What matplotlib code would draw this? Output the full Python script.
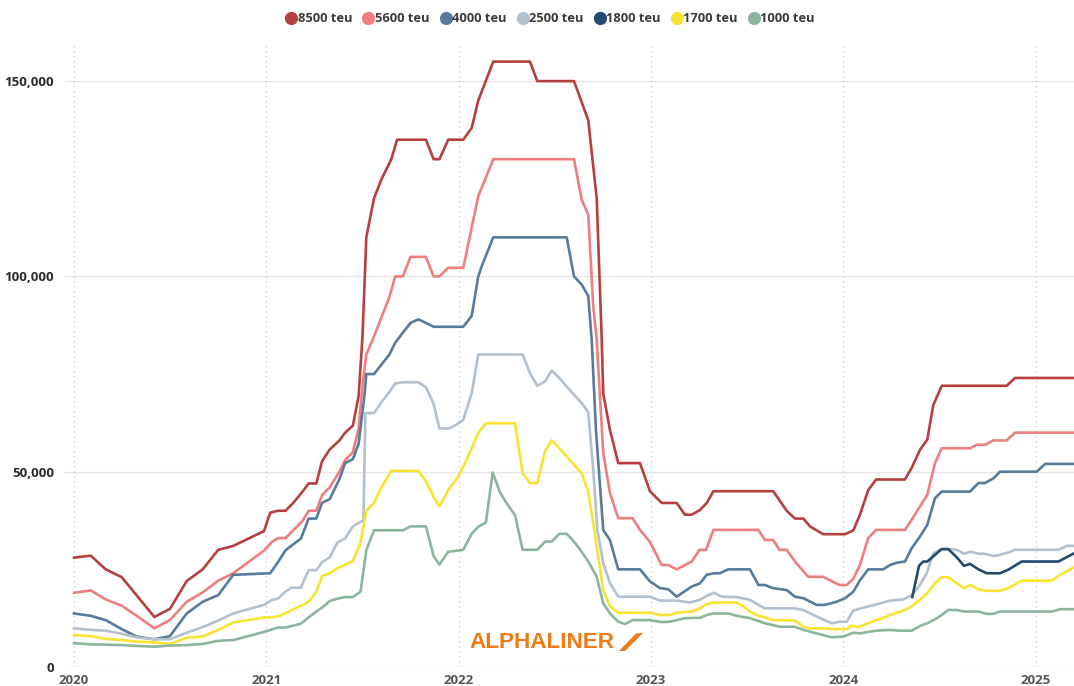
import matplotlib
matplotlib.use("Agg")
import matplotlib.pyplot as plt
from matplotlib.lines import Line2D
from matplotlib.patches import Polygon
from matplotlib.ticker import FuncFormatter

plt.rcParams['font.family'] = ['Open Sans', 'DejaVu Sans']

# charter rates ($/day) by vessel size, time as fractional year
s8500 = [(2020.0, 28000), (2020.087, 28500), (2020.165, 25000), (2020.248, 23000), (2020.418, 12800),
         (2020.499, 14900), (2020.586, 22000), (2020.669, 25000), (2020.750, 30000), (2020.828, 31000),
         (2020.988, 34800), (2021.02, 39500), (2021.06, 40000), (2021.10, 40000), (2021.14, 42000),
         (2021.19, 45000), (2021.22, 47000), (2021.26, 47000), (2021.29, 52700), (2021.33, 55700),
         (2021.38, 58000), (2021.41, 60000), (2021.45, 61800), (2021.48, 69400), (2021.50, 84600),
         (2021.52, 110000), (2021.56, 120000), (2021.60, 125000), (2021.65, 130000), (2021.68, 135000),
         (2021.83, 135000), (2021.87, 130000), (2021.90, 130000), (2021.946, 135000), (2022.024, 135000),
         (2022.068, 138000), (2022.102, 145000), (2022.180, 155000), (2022.371, 155000), (2022.409, 150000),
         (2022.600, 150000), (2022.674, 140000), (2022.718, 120000), (2022.744, 84000), (2022.752, 70000),
         (2022.787, 60700), (2022.830, 52200), (2022.943, 52200), (2022.995, 45000), (2023.056, 42000),
         (2023.134, 42000), (2023.177, 39000), (2023.212, 39000), (2023.255, 40200), (2023.290, 42000),
         (2023.325, 45000), (2023.636, 45000), (2023.706, 40000), (2023.749, 38000), (2023.793, 38000),
         (2023.827, 36000), (2023.896, 34000), (2024.009, 34000), (2024.053, 35000), (2024.087, 39000),
         (2024.130, 45300), (2024.171, 48000), (2024.321, 48000), (2024.356, 51000), (2024.399, 55600),
         (2024.437, 58200), (2024.468, 67000), (2024.512, 72000), (2024.850, 72000), (2024.893, 74000),
         (2025.200, 74000)]

s5600 = [(2020.0, 19000), (2020.087, 19600), (2020.165, 17300), (2020.248, 15700), (2020.326, 13100),
         (2020.418, 9900), (2020.499, 12000), (2020.586, 16700), (2020.669, 19100), (2020.750, 22100),
         (2020.828, 24000), (2020.988, 29800), (2021.031, 32100), (2021.06, 33000), (2021.10, 33000),
         (2021.14, 35000), (2021.19, 37500), (2021.22, 40000), (2021.26, 40000), (2021.29, 44000),
         (2021.33, 46000), (2021.38, 50000), (2021.41, 53000), (2021.45, 55000), (2021.48, 61000),
         (2021.50, 72000), (2021.52, 80000), (2021.56, 84600), (2021.60, 89700), (2021.64, 94700),
         (2021.67, 100000), (2021.71, 100000), (2021.75, 105000), (2021.83, 105000), (2021.87, 100000),
         (2021.90, 100000), (2021.946, 102200), (2022.024, 102200), (2022.102, 120500), (2022.180, 130000),
         (2022.600, 130000), (2022.640, 119600), (2022.674, 115800), (2022.700, 92300), (2022.718, 83800),
         (2022.752, 54800), (2022.787, 44500), (2022.830, 38100), (2022.905, 38100), (2022.943, 35100),
         (2022.995, 32000), (2023.056, 26100), (2023.090, 26100), (2023.134, 25000), (2023.177, 26100),
         (2023.212, 27000), (2023.252, 30000), (2023.287, 30000), (2023.325, 35100), (2023.559, 35100),
         (2023.593, 32500), (2023.636, 32500), (2023.668, 30000), (2023.706, 30000), (2023.749, 27000),
         (2023.818, 23100), (2023.896, 23100), (2023.980, 21000), (2024.018, 21000), (2024.053, 22600),
         (2024.087, 26200), (2024.130, 33000), (2024.171, 35100), (2024.321, 35100), (2024.356, 37700),
         (2024.399, 41100), (2024.437, 44100), (2024.477, 52200), (2024.512, 56000), (2024.659, 56000),
         (2024.694, 56900), (2024.737, 56900), (2024.781, 58000), (2024.850, 58000), (2024.893, 60000),
         (2025.200, 60000)]

s4000 = [(2020.0, 13700), (2020.087, 13100), (2020.165, 12000), (2020.248, 9700), (2020.326, 7800),
         (2020.418, 7100), (2020.499, 7900), (2020.586, 13700), (2020.669, 16700), (2020.750, 18400),
         (2020.828, 23600), (2021.02, 24000), (2021.06, 26800), (2021.10, 29900), (2021.14, 31400),
         (2021.18, 32900), (2021.22, 38000), (2021.26, 38000), (2021.29, 42000), (2021.33, 43000),
         (2021.38, 48100), (2021.41, 52200), (2021.45, 53200), (2021.48, 57200), (2021.51, 69400),
         (2021.52, 75000), (2021.56, 75000), (2021.60, 77500), (2021.64, 80000), (2021.67, 83000),
         (2021.71, 85600), (2021.75, 88100), (2021.79, 89000), (2021.83, 88100), (2021.87, 87100),
         (2022.024, 87100), (2022.068, 89900), (2022.102, 100000), (2022.120, 102600), (2022.180, 110000),
         (2022.562, 110000), (2022.600, 100000), (2022.640, 97900), (2022.674, 95000), (2022.692, 83800),
         (2022.714, 60700), (2022.752, 35100), (2022.787, 32500), (2022.830, 25000), (2022.943, 25000),
         (2022.995, 21900), (2023.047, 20200), (2023.090, 19900), (2023.134, 18000), (2023.212, 20600),
         (2023.255, 21400), (2023.290, 23600), (2023.328, 24000), (2023.359, 24000), (2023.402, 25000),
         (2023.515, 25000), (2023.559, 21000), (2023.593, 21000), (2023.633, 20200), (2023.706, 19700),
         (2023.749, 18000), (2023.793, 17600), (2023.862, 15900), (2023.905, 15900), (2023.966, 16700),
         (2024.009, 17600), (2024.053, 19300), (2024.087, 22200), (2024.130, 25000), (2024.208, 25000),
         (2024.243, 26100), (2024.278, 26700), (2024.321, 27000), (2024.356, 30400), (2024.399, 33400),
         (2024.437, 36400), (2024.477, 43200), (2024.512, 44900), (2024.659, 44900), (2024.703, 47100),
         (2024.737, 47100), (2024.781, 48300), (2024.815, 50000), (2025.006, 50000), (2025.050, 52000),
         (2025.200, 52000)]

s2500 = [(2020.0, 9900), (2020.087, 9500), (2020.165, 9300), (2020.248, 8500), (2020.326, 7600),
         (2020.418, 7100), (2020.499, 7100), (2020.586, 8800), (2020.669, 10200), (2020.750, 11900),
         (2020.828, 13700), (2020.906, 14800), (2020.988, 15900), (2021.031, 17200), (2021.06, 17500),
         (2021.10, 19300), (2021.13, 20300), (2021.18, 20300), (2021.22, 24800), (2021.26, 24800),
         (2021.29, 26800), (2021.33, 28100), (2021.37, 31900), (2021.41, 32900), (2021.45, 36000),
         (2021.49, 37200), (2021.505, 37500), (2021.515, 65000), (2021.56, 65000), (2021.60, 67900),
         (2021.64, 70400), (2021.67, 72600), (2021.71, 72900), (2021.79, 72900), (2021.83, 71600),
         (2021.87, 67400), (2021.90, 61100), (2021.946, 61000), (2021.981, 61800), (2022.024, 63300),
         (2022.068, 70100), (2022.102, 80000), (2022.333, 80000), (2022.371, 75200), (2022.409, 72000),
         (2022.449, 73100), (2022.484, 75900), (2022.524, 74000), (2022.562, 71800), (2022.600, 69700),
         (2022.640, 67600), (2022.674, 65200), (2022.700, 50500), (2022.721, 35100), (2022.752, 26600),
         (2022.787, 21400), (2022.830, 18000), (2022.995, 18000), (2023.047, 17000), (2023.134, 17000),
         (2023.203, 16500), (2023.255, 17200), (2023.290, 18200), (2023.328, 19000), (2023.368, 18000),
         (2023.446, 17900), (2023.515, 17200), (2023.559, 15900), (2023.593, 15000), (2023.749, 15000),
         (2023.793, 14600), (2023.862, 12900), (2023.940, 11200), (2023.983, 11600), (2024.018, 11600),
         (2024.053, 14500), (2024.130, 15500), (2024.208, 16500), (2024.243, 17000), (2024.313, 17300),
         (2024.356, 18400), (2024.399, 21000), (2024.434, 24000), (2024.468, 29100), (2024.503, 30000),
         (2024.555, 30200), (2024.590, 30000), (2024.628, 29000), (2024.663, 29500), (2024.703, 29000),
         (2024.737, 29000), (2024.781, 28400), (2024.815, 28700), (2024.858, 29300), (2024.893, 30000),
         (2025.119, 30000), (2025.162, 31000), (2025.200, 31000)]

s1800 = [(2024.359, 17900), (2024.394, 25900), (2024.416, 27000), (2024.437, 27000), (2024.477, 28700),
         (2024.512, 30200), (2024.546, 30200), (2024.590, 28100), (2024.628, 25900), (2024.659, 26400),
         (2024.703, 25000), (2024.746, 24000), (2024.815, 24000), (2024.858, 24900), (2024.928, 27000),
         (2025.119, 27000), (2025.200, 29100)]

s1700 = [(2020.0, 8200), (2020.087, 7900), (2020.165, 7200), (2020.248, 6900), (2020.326, 6500),
         (2020.418, 6300), (2020.499, 5900), (2020.586, 7500), (2020.669, 7800), (2020.750, 9500),
         (2020.828, 11400), (2020.906, 12000), (2020.988, 12700), (2021.031, 12700), (2021.071, 13100),
         (2021.13, 14500), (2021.18, 15700), (2021.22, 16700), (2021.26, 19300), (2021.29, 23300),
         (2021.33, 24000), (2021.37, 25300), (2021.45, 27100), (2021.49, 31900), (2021.52, 40000),
         (2021.56, 42000), (2021.60, 46100), (2021.65, 50200), (2021.79, 50200), (2021.83, 47600),
         (2021.87, 43600), (2021.90, 41100), (2021.946, 45300), (2021.998, 48800), (2022.033, 52200),
         (2022.068, 56000), (2022.102, 59900), (2022.142, 62400), (2022.293, 62400), (2022.333, 49600),
         (2022.371, 47100), (2022.409, 47100), (2022.449, 55200), (2022.484, 58000), (2022.524, 56000),
         (2022.562, 53900), (2022.600, 51800), (2022.640, 49600), (2022.674, 44900), (2022.700, 36800),
         (2022.726, 28300), (2022.752, 19700), (2022.787, 15600), (2022.830, 13900), (2022.995, 13900),
         (2023.047, 13300), (2023.099, 13300), (2023.134, 13900), (2023.212, 14200), (2023.255, 15000),
         (2023.290, 16100), (2023.328, 16500), (2023.446, 16500), (2023.480, 15500), (2023.515, 14200),
         (2023.559, 13100), (2023.593, 12700), (2023.636, 12000), (2023.749, 11900), (2023.793, 10300),
         (2023.827, 9900), (2023.896, 9900), (2023.948, 9700), (2024.018, 9700), (2024.044, 10600),
         (2024.078, 10200), (2024.130, 11200), (2024.171, 12000), (2024.208, 12500), (2024.243, 13300),
         (2024.321, 14600), (2024.356, 15500), (2024.399, 17200), (2024.437, 18900), (2024.477, 21400),
         (2024.512, 23000), (2024.546, 23000), (2024.586, 21600), (2024.628, 20200), (2024.663, 21000),
         (2024.703, 19900), (2024.746, 19500), (2024.815, 19500), (2024.858, 20200), (2024.928, 22100),
         (2025.084, 22100), (2025.127, 23600), (2025.200, 25500)]

s1000 = [(2020.0, 6100), (2020.087, 5800), (2020.248, 5600), (2020.326, 5400), (2020.418, 5200),
         (2020.499, 5500), (2020.586, 5600), (2020.669, 5900), (2020.750, 6700), (2020.828, 6900),
         (2020.906, 7900), (2020.988, 9000), (2021.06, 10100), (2021.10, 10100), (2021.18, 11100),
         (2021.22, 12700), (2021.26, 14200), (2021.29, 15200), (2021.33, 16900), (2021.37, 17500),
         (2021.41, 17900), (2021.45, 17900), (2021.49, 19300), (2021.52, 29900), (2021.56, 35000),
         (2021.71, 35000), (2021.75, 36000), (2021.83, 36000), (2021.87, 28400), (2021.90, 26200),
         (2021.946, 29500), (2022.024, 30000), (2022.068, 34100), (2022.102, 35900), (2022.142, 37000),
         (2022.177, 49800), (2022.215, 44700), (2022.250, 41900), (2022.293, 38900), (2022.333, 30000),
         (2022.409, 30000), (2022.449, 32100), (2022.484, 32100), (2022.524, 34100), (2022.562, 34100),
         (2022.600, 32100), (2022.640, 29500), (2022.674, 27000), (2022.718, 23100), (2022.752, 16300),
         (2022.787, 13700), (2022.830, 11600), (2022.865, 11000), (2022.905, 12000), (2022.995, 12000),
         (2023.056, 11500), (2023.099, 11600), (2023.134, 12000), (2023.177, 12500), (2023.255, 12600),
         (2023.290, 13300), (2023.325, 13700), (2023.402, 13700), (2023.446, 13100), (2023.515, 12500),
         (2023.593, 11200), (2023.671, 10300), (2023.749, 10300), (2023.793, 9500), (2023.862, 8600),
         (2023.940, 7600), (2024.001, 7800), (2024.053, 8800), (2024.087, 8600), (2024.130, 9000),
         (2024.174, 9300), (2024.243, 9500), (2024.287, 9300), (2024.356, 9300), (2024.399, 10500),
         (2024.437, 11200), (2024.477, 12200), (2024.512, 13300), (2024.546, 14600), (2024.590, 14600),
         (2024.628, 14200), (2024.703, 14200), (2024.746, 13600), (2024.781, 13600), (2024.815, 14200),
         (2025.084, 14200), (2025.127, 14800), (2025.200, 14800)]

names = ['8500 teu', '5600 teu', '4000 teu', '2500 teu', '1800 teu', '1700 teu', '1000 teu']
series = [s8500, s5600, s4000, s2500, s1800, s1700, s1000]
colors = ['#b5403f', '#ef7f7e', '#587b9c', '#b3c1cf', '#234b70', '#f8e333', '#8cb59e']
years = [2020, 2021, 2022, 2023, 2024, 2025]
yticks = [0, 50000, 100000, 150000]

fig = plt.figure(figsize=(10.74, 6.86), dpi=100)
ax = fig.add_axes([0.0605, 0.0277, 0.9395, 0.911])

for name, s, c in zip(names, series, colors):
    t = [p[0] for p in s]
    v = [p[1] for p in s]
    ax.plot(t, v, color=c, lw=1.9, label=name, solid_joinstyle='round', zorder=3)

ax.set_xlim(2019.953, 2025.2)
ax.set_ylim(0, 160000)
ax.set_yticks(yticks)
ax.yaxis.set_major_formatter(FuncFormatter(lambda v, p: f"{int(v):,}"))
ax.set_xticks(years)
ax.set_xticklabels([str(y) for y in years])

for y in yticks:
    ax.axhline(y, color='#e6e6e6', lw=1.0, zorder=1)
for x in years:
    ax.axvline(x, color='#c8c8c8', lw=0.9, ls=(0, (1, 3)), zorder=1)

for sp in ax.spines.values():
    sp.set_visible(False)
ax.tick_params(length=0)
ax.tick_params(axis='y', pad=8, labelsize=9.5, labelcolor='#2b2b2b')
ax.tick_params(axis='x', pad=5, labelsize=9.5, labelcolor='#555555')
for lab in ax.get_yticklabels() + ax.get_xticklabels():
    lab.set_fontweight('bold')

handles = [Line2D([], [], ls='none', marker='o', ms=8.5, mfc=c, mec=c) for c in colors]
leg = fig.legend(handles, names, loc='center', bbox_to_anchor=(0.512, 0.973), ncol=7,
                 frameon=False, handletextpad=0.0, columnspacing=0.75, handlelength=1.0,
                 prop={'weight': 'bold', 'size': 9.3})
for txt in leg.get_texts():
    txt.set_color('#3a3a3a')

# watermark
orange = '#f07b16'
fig.text(0.4375, 0.064, 'ALPHALINER', color=orange, fontsize=16.2, fontweight='bold',
         family='Liberation Sans', ha='left', va='center')
swoosh = [(619, 651), (625, 651), (643, 633), (636, 633.5)]
fig.add_artist(Polygon([(px / 1074, 1 - py / 686) for px, py in swoosh], closed=True,
                       transform=fig.transFigure, color=orange, lw=0))

fig.savefig('out.png', dpi=100, facecolor='white')
